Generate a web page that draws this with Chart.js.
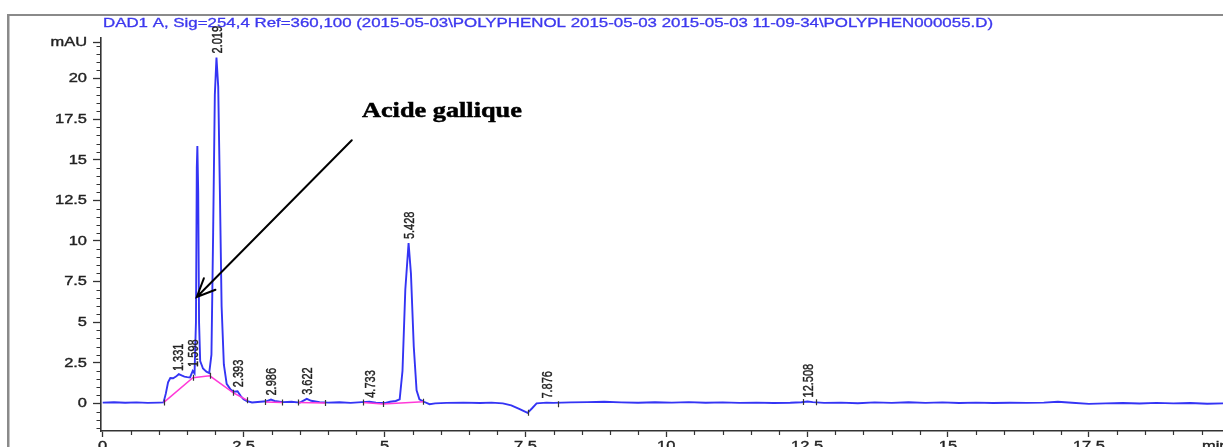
<!DOCTYPE html>
<html>
<head>
<meta charset="utf-8">
<title>DAD1 A - POLYPHENOL</title>
<script src="https://cdn.jsdelivr.net/npm/chart.js@4.4.0/dist/chart.umd.min.js"></script>
<style>
  html, body { margin: 0; padding: 0; background: #fff; }
  canvas { display: block; }
</style>
</head>
<body>
<canvas id="chromChart" width="1223" height="447"></canvas>
<script>
// signal DAD1 A (mAU) against retention time (min)
const traceTimes = [
  0, 0.2, 0.4, 0.6, 0.8, 1.0, 1.08, 1.12, 1.16, 1.2, 1.25, 1.3, 1.35, 1.4, 1.45, 1.5, 1.55,
  1.598, 1.63, 1.655, 1.67, 1.68, 1.695, 1.71, 1.73, 1.78, 1.84, 1.89, 1.93, 1.96, 1.99,
  2.019, 2.05, 2.08, 2.11, 2.15, 2.2, 2.27, 2.33, 2.393, 2.45, 2.5, 2.55, 2.65, 2.8, 2.9,
  2.986, 3.05, 3.2, 3.35, 3.5, 3.58, 3.622, 3.7, 3.85, 4.0, 4.2, 4.4, 4.6, 4.733, 4.85,
  5.0, 5.1, 5.2, 5.27, 5.32, 5.37, 5.428, 5.47, 5.52, 5.57, 5.62, 5.7, 5.8, 5.9, 6.1, 6.4,
  6.7, 6.9, 7.1, 7.25, 7.4, 7.54, 7.62, 7.7, 7.876, 8.0, 8.3, 8.6, 8.9, 9.2, 9.5, 9.8,
  10.1, 10.4, 10.7, 11.0, 11.3, 11.6, 11.9, 12.2, 12.4, 12.508, 12.6, 12.8, 13.1, 13.4,
  13.7, 14.0, 14.3, 14.6, 14.9, 15.2, 15.5, 15.8, 16.1, 16.4, 16.7, 16.95, 17.2, 17.5,
  17.8, 18.1, 18.4, 18.7, 19.0, 19.3, 19.6, 19.88
];
const traceValues = [
  0.05, 0.07, 0.04, 0.06, 0.03, 0.05, 0.06, 0.6, 1.3, 1.56, 1.55, 1.65, 1.8, 1.72, 1.65, 1.62, 1.6,
  2.0, 1.85, 5.0, 14.5, 15.85, 13.0, 5.0, 2.6, 2.15, 1.95, 1.87, 3.0, 10.5, 19.0,
  21.3, 19.5, 13.0, 6.0, 2.4, 1.2, 0.85, 0.72, 0.75, 0.45, 0.25, 0.15, 0.06, 0.1, 0.13,
  0.24, 0.15, 0.08, 0.1, 0.05, 0.2, 0.28, 0.16, 0.08, 0.05, 0.07, 0.03, 0.08, 0.1, 0.05,
  0.02, 0.1, 0.15, 0.25, 2.0, 7.0, 9.87, 8.0, 3.5, 0.8, 0.25, 0.1, -0.05, 0.0, 0.03, 0.05,
  0.02, 0.05, 0.0, -0.12, -0.35, -0.58, -0.3, 0.0, 0.05, 0.03, 0.06, 0.08, 0.1, 0.06, 0.04, 0.07,
  0.05, 0.08, 0.04, 0.06, 0.03, 0.05, 0.02, 0.04, 0.07, 0.12, 0.08, 0.03, 0.05, 0.01,
  0.06, 0.03, 0.07, 0.03, 0.06, 0.02, 0.05, 0.02, 0.04, 0.03, 0.05, 0.1, 0.04, -0.03,
  0.0, 0.02, -0.01, 0.03, 0.0, 0.02, -0.02, 0.0
];

// integration baselines (null splits the segments)
const baselineTimes = [
  1.08, 1.6, 1.9, 2.32, 2.56, null,
  2.88, 3.18, null,
  3.47, 3.95, null,
  4.62, 4.97, 5.69, null,
  7.54, 8.08, null,
  12.42, 12.65
];
const baselineValues = [
  0.05, 1.58, 1.7, 0.65, 0.2, null,
  0.08, 0.06, null,
  0.05, 0.03, null,
  0.05, -0.03, 0.1, null,
  -0.58, -0.05, null,
  0.08, 0.07
];

// retention times printed above the peaks
const peakTimes = [1.331, 1.598, 2.019, 2.393, 2.986, 3.622, 4.733, 5.428, 7.876, 12.508];
const peakLabels = ["1.331", "1.598", "2.019", "2.393", "2.986", "3.622", "4.733", "5.428", "7.876", "12.508"];

const xTicks = [0, 2.5, 5, 7.5, 10, 12.5, 15, 17.5];
const yTicks = [0, 2.5, 5, 7.5, 10, 12.5, 15, 17.5, 20, 22.25];
const yTickLabels = ["0", "2.5", "5", "7.5", "10", "12.5", "15", "17.5", "20", "mAU"];

const signalTitle = "DAD1 A, Sig=254,4 Ref=360,100 (2015-05-03\\POLYPHENOL 2015-05-03 2015-05-03 11-09-34\\POLYPHEN000055.D)";

// arrow note, in axis units
const note = { text: "Acide gallique", x: 4.6, y: 17.65, tailX: 4.42, tailY: 16.2, tipX: 1.67, tipY: 6.55 };

const tracePoints = traceTimes.map((t, i) => ({ x: t, y: traceValues[i] }));
const baselinePoints = baselineTimes.map((t, i) => ({ x: t === null ? NaN : t, y: baselineValues[i] }));

const STRETCH = 1.37;

// fill plus a hairline stroke so the small print reads a bit heavier
function heavyText(ctx, text, weight) {
  ctx.fillText(text, 0, 0);
  ctx.lineWidth = weight;
  ctx.strokeStyle = ctx.fillStyle;
  ctx.strokeText(text, 0, 0);
}

function stretchedText(ctx, text, x, y, align, sx, weight) {
  ctx.save();
  ctx.translate(x, y);
  ctx.scale(sx, 1);
  ctx.textAlign = align;
  heavyText(ctx, text, weight || 0.35);
  ctx.restore();
}

function valueAt(t) {
  for (let i = 1; i < traceTimes.length; i++) {
    if (traceTimes[i] >= t) {
      const t0 = traceTimes[i - 1], t1 = traceTimes[i];
      const f = (t - t0) / (t1 - t0);
      return traceValues[i - 1] + f * (traceValues[i] - traceValues[i - 1]);
    }
  }
  return traceValues[traceValues.length - 1];
}

const chromDecor = {
  id: "chromDecor",
  beforeDraw(chart) {
    const ctx = chart.ctx;
    ctx.save();
    ctx.fillStyle = "#fff";
    ctx.fillRect(0, 0, chart.width, chart.height);
    // report frame
    ctx.fillStyle = "#8a8a8a";
    ctx.fillRect(7, 14, chart.width - 7, 2);
    ctx.fillRect(7, 14, 2.5, chart.height - 14);
    // signal title
    ctx.fillStyle = "#3d38ee";
    ctx.font = "12px 'Liberation Sans', Arial, sans-serif";
    ctx.textBaseline = "alphabetic";
    const w = ctx.measureText(signalTitle).width;
    stretchedText(ctx, signalTitle, 103, 27, "left", 890 / w, 0.3);
    ctx.restore();
  },
  afterDraw(chart) {
    const ctx = chart.ctx;
    const xs = chart.scales.x, ys = chart.scales.y;
    const area = chart.chartArea;
    ctx.save();

    // minor ticks
    ctx.strokeStyle = "#333";
    ctx.lineWidth = 1.2;
    ctx.beginPath();
    for (let v = -1.5; v <= 22; v += 0.5) {
      if (Math.abs(v / 2.5 - Math.round(v / 2.5)) < 1e-6) continue;
      const py = Math.round(ys.getPixelForValue(v)) + 0.5;
      ctx.moveTo(area.left - 4.5, py);
      ctx.lineTo(area.left, py);
    }
    for (let v = 0.5; v < 19.88; v += 0.5) {
      if (Math.abs(v / 2.5 - Math.round(v / 2.5)) < 1e-6) continue;
      const px = Math.round(xs.getPixelForValue(v)) + 0.5;
      ctx.moveTo(px, area.bottom);
      ctx.lineTo(px, area.bottom + 4);
    }
    ctx.stroke();

    // tick labels
    ctx.fillStyle = "#222";
    ctx.font = "12px 'Liberation Sans', Arial, sans-serif";
    ctx.textBaseline = "middle";
    yTicks.forEach((v, i) => {
      stretchedText(ctx, yTickLabels[i], area.left - 14, ys.getPixelForValue(v) + 0.5, "right", STRETCH);
    });
    ctx.textBaseline = "alphabetic";
    xTicks.forEach(v => {
      stretchedText(ctx, String(v), xs.getPixelForValue(v), area.bottom + 19, "center", STRETCH);
    });
    stretchedText(ctx, "min", 1202, area.bottom + 19, "left", STRETCH);

    // integration marks
    ctx.strokeStyle = "#333";
    ctx.lineWidth = 1.2;
    ctx.beginPath();
    baselineTimes.forEach((t, i) => {
      if (t === null) return;
      const px = Math.round(xs.getPixelForValue(t)) + 0.5;
      const py = ys.getPixelForValue(baselineValues[i]);
      ctx.moveTo(px, py - 3);
      ctx.lineTo(px, py + 3);
    });
    ctx.stroke();

    // peak retention times, rotated
    ctx.fillStyle = "#222";
    ctx.font = "11px 'Liberation Sans', Arial, sans-serif";
    ctx.textBaseline = "middle";
    peakTimes.forEach((t, i) => {
      const px = xs.getPixelForValue(t) + 1;
      const py = ys.getPixelForValue(valueAt(t)) - 4;
      ctx.save();
      ctx.translate(px, py);
      ctx.rotate(-Math.PI / 2);
      ctx.scale(1, 1.35);
      ctx.textAlign = "left";
      heavyText(ctx, peakLabels[i], 0.3);
      ctx.restore();
    });

    // "Acide gallique" note with arrow
    ctx.fillStyle = "#000";
    ctx.font = "bold 22px 'Liberation Serif', 'Times New Roman', serif";
    ctx.textBaseline = "alphabetic";
    const tw = ctx.measureText(note.text).width;
    stretchedText(ctx, note.text, xs.getPixelForValue(note.x), ys.getPixelForValue(note.y), "left", 160 / tw, 0.5);

    const x0 = xs.getPixelForValue(note.tailX), y0 = ys.getPixelForValue(note.tailY);
    const x1 = xs.getPixelForValue(note.tipX), y1 = ys.getPixelForValue(note.tipY);
    const ang = Math.atan2(y1 - y0, x1 - x0);
    const head = 20, spread = 0.42;
    ctx.strokeStyle = "#000";
    ctx.lineWidth = 2;
    ctx.lineCap = "round";
    ctx.beginPath();
    ctx.moveTo(x0, y0);
    ctx.lineTo(x1, y1);
    ctx.moveTo(x1 - head * Math.cos(ang - spread), y1 - head * Math.sin(ang - spread));
    ctx.lineTo(x1, y1);
    ctx.lineTo(x1 - head * Math.cos(ang + spread), y1 - head * Math.sin(ang + spread));
    ctx.stroke();

    ctx.restore();
  }
};

new Chart(document.getElementById("chromChart"), {
  type: "line",
  data: {
    datasets: [
      {
        data: baselinePoints,
        borderColor: "#ff3ad8",
        borderWidth: 1.5,
        pointRadius: 0,
        spanGaps: false,
        order: 0
      },
      {
        data: tracePoints,
        borderColor: "#3434f4",
        borderWidth: 1.9,
        pointRadius: 0,
        tension: 0,
        order: 1
      }
    ]
  },
  options: {
    responsive: false,
    animation: false,
    events: [],
    parsing: false,
    layout: { padding: { top: 38, left: 0, right: 0, bottom: 0 } },
    plugins: { legend: { display: false }, tooltip: { enabled: false }, title: { display: false } },
    scales: {
      x: {
        type: "linear",
        min: -0.03,
        max: 19.88,
        afterBuildTicks: s => { s.ticks = xTicks.map(v => ({ value: v })); },
        afterFit: s => { s.height = 16; },
        ticks: { display: false },
        grid: { drawOnChartArea: false, drawTicks: true, tickLength: 6, tickColor: "#333", tickWidth: 1.3 },
        border: { display: true, color: "#333", width: 1.6 }
      },
      y: {
        type: "linear",
        min: -1.7,
        max: 22.5,
        afterBuildTicks: s => { s.ticks = yTicks.map(v => ({ value: v })); },
        afterFit: s => { s.width = 101; },
        ticks: { display: false },
        grid: { drawOnChartArea: false, drawTicks: true, tickLength: 8, tickColor: "#333", tickWidth: 1.3 },
        border: { display: true, color: "#333", width: 1.6 }
      }
    }
  },
  plugins: [chromDecor]
});
</script>
</body>
</html>
